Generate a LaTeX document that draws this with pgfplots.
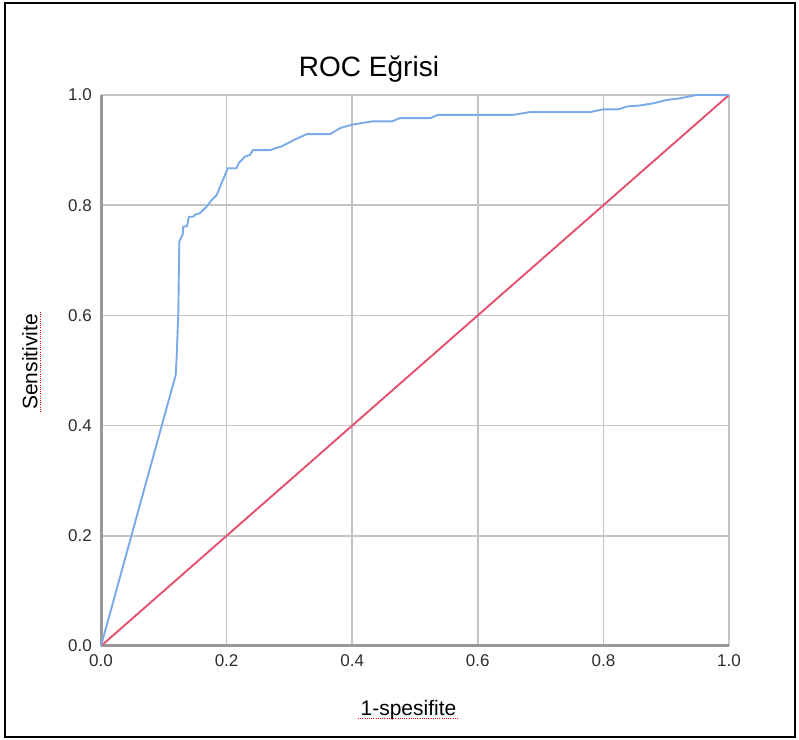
\documentclass[border=0pt]{standalone}
\usepackage{pgfplots}
\pgfplotsset{compat=1.18}
\usepackage{fontspec}
\setmainfont{Liberation Sans}
\definecolor{rocblue}{HTML}{7AAAE8}
\definecolor{rocred}{HTML}{E5506F}
\definecolor{gridgray}{HTML}{C4C4C4}
\definecolor{axisgray}{HTML}{999999}
\definecolor{ticktext}{HTML}{2E2E2E}
\begin{document}
\begin{tikzpicture}
\path[use as bounding box] (0bp,0bp) rectangle (799bp,740bp);
\fill[white] (0bp,0bp) rectangle (799bp,740bp);
\draw[black, line width=2bp] (5bp,3bp) rectangle (795bp,737bp);
\begin{axis}[
  at={(101bp,94bp)}, anchor=south west,
  scale only axis, width=628bp, height=551bp,
  xmin=0, xmax=1, ymin=0, ymax=1,
  xtick={0,0.2,0.4,0.6,0.8,1.0},
  ytick={0,0.2,0.4,0.6,0.8,1.0},
  /pgf/number format/assume math mode=true,
  xticklabel style={/pgf/number format/fixed, /pgf/number format/fixed zerofill, /pgf/number format/precision=1, anchor=north, inner sep=0pt, yshift=-8bp},
  yticklabel style={/pgf/number format/fixed, /pgf/number format/fixed zerofill, /pgf/number format/precision=1, anchor=east, inner sep=0pt, xshift=-9bp},
  tick label style={font=\fontsize{17bp}{17bp}\selectfont, text=ticktext},
  major tick length=0pt,
  grid=major,
  grid style={color=gridgray, line width=1.6bp},
  axis x line*=bottom, axis y line*=left,
  axis line style={color=axisgray, line width=3bp, -},
  clip=false,
]
\addplot[rocred, line width=1.9bp] coordinates {(0,0) (1,1)};
\addplot[rocblue, line width=1.9bp] coordinates {
(0,0)
(0.119,0.492)
(0.1205,0.525)
(0.1215,0.555)
(0.123,0.600)
(0.1247,0.734)
(0.127,0.740)
(0.130,0.746)
(0.131,0.761)
(0.137,0.762)
(0.140,0.779)
(0.147,0.779)
(0.150,0.783)
(0.157,0.785)
(0.168,0.797)
(0.176,0.809)
(0.184,0.818)
(0.192,0.840)
(0.202,0.867)
(0.216,0.867)
(0.219,0.876)
(0.229,0.888)
(0.237,0.891)
(0.242,0.900)
(0.269,0.900)
(0.288,0.907)
(0.312,0.921)
(0.328,0.929)
(0.365,0.929)
(0.381,0.940)
(0.399,0.946)
(0.431,0.952)
(0.463,0.952)
(0.476,0.958)
(0.524,0.958)
(0.537,0.964)
(0.657,0.964)
(0.683,0.969)
(0.779,0.969)
(0.800,0.974)
(0.824,0.974)
(0.837,0.979)
(0.858,0.981)
(0.880,0.985)
(0.901,0.991)
(0.922,0.994)
(0.948,1.0)
(1,1)
};
\end{axis}
\node[anchor=base, inner sep=0pt, font=\fontsize{28bp}{28bp}\selectfont] at (369bp,663.3bp) {ROC Eğrisi};
\node[anchor=base, inner sep=0pt, font=\fontsize{21bp}{21bp}\selectfont] at (408.5bp,25bp) {1-spesifite};
\node[anchor=base, inner sep=0pt, rotate=90, font=\fontsize{21bp}{21bp}\selectfont] at (37.3bp,378bp) {Sensitivite};
\draw[red, line width=0.9bp, dash pattern=on 1bp off 1.2bp] (358bp,21.7bp) -- (458bp,21.7bp);
\draw[red, line width=0.9bp, dash pattern=on 1bp off 1.2bp] (40.5bp,328bp) -- (40.5bp,428bp);
\end{tikzpicture}
\end{document}
